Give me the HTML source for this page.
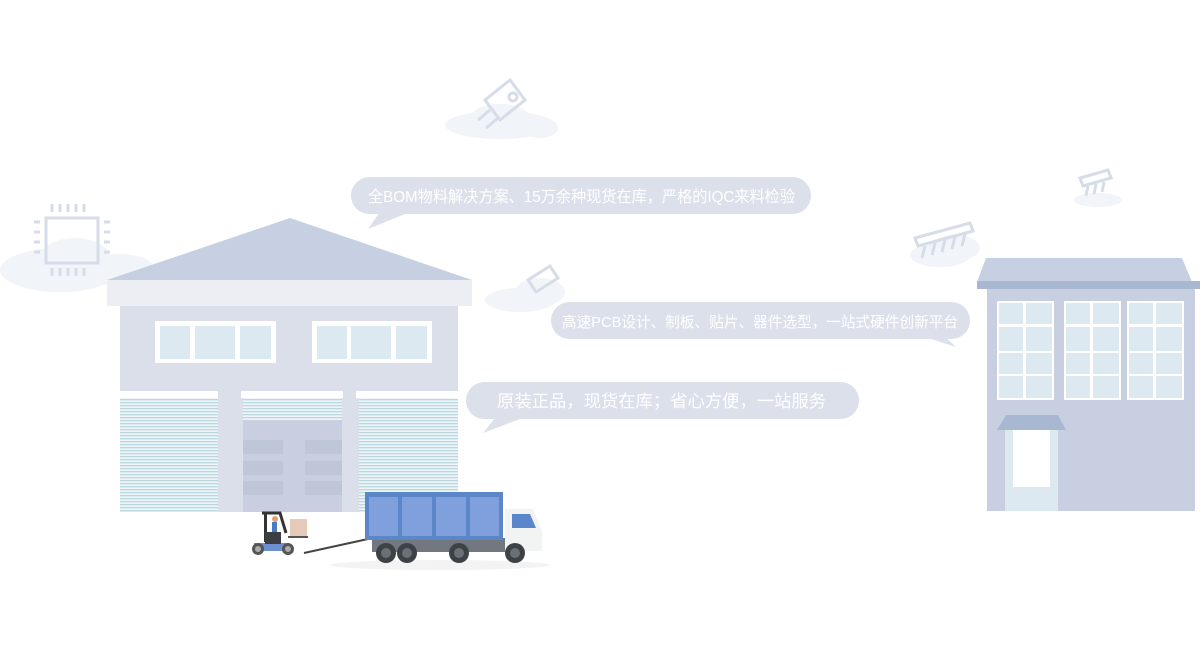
<!DOCTYPE html>
<html><head><meta charset="utf-8"><style>
html,body{margin:0;padding:0;background:#fff;}
body{width:1200px;height:650px;overflow:hidden;}
svg text{font-family:"Liberation Sans","Noto Sans CJK SC",sans-serif;fill:#fff;}
</style></head><body>
<svg width="1200" height="650" viewBox="0 0 1200 650" xmlns="http://www.w3.org/2000/svg">
<defs>
<pattern id="stripe" width="4" height="3" patternUnits="userSpaceOnUse">
<rect width="4" height="3" fill="#eef4f7"/><rect width="4" height="1.3" fill="#b9d8e0"/>
</pattern>
</defs>
<g fill="#f1f4f8">
<ellipse cx="60" cy="270" rx="60" ry="22"/><ellipse cx="75" cy="258" rx="35" ry="20"/><ellipse cx="120" cy="270" rx="35" ry="16"/>
<ellipse cx="500" cy="125" rx="55" ry="14"/><ellipse cx="500" cy="118" rx="30" ry="14"/><ellipse cx="540" cy="128" rx="18" ry="10"/>
<ellipse cx="520" cy="300" rx="35" ry="12"/><ellipse cx="540" cy="292" rx="25" ry="14"/>
<ellipse cx="940" cy="255" rx="30" ry="12"/><ellipse cx="955" cy="248" rx="25" ry="13"/>
<ellipse cx="1098" cy="200" rx="24" ry="7"/>
</g>
<g fill="none" stroke="#d6dde8" stroke-width="3">
<rect x="46" y="218" width="52" height="45"/>
<path d="M52 212v-8M60 212v-8M68 212v-8M76 212v-8M84 212v-8M52 268v8M60 268v8M68 268v8M76 268v8M84 268v8M40 222h-6M40 232h-6M40 242h-6M40 252h-6M104 222h6M104 232h6M104 242h6M104 252h6"/>
<path d="M485 100l25-20 15 20-25 20z"/><circle cx="513" cy="97" r="4"/><path d="M490 110l-12 10M498 118l-12 10"/>
<path d="M528 280l22-14 8 12-22 14z"/>
<path d="M915 238l55-15 3 8-55 15zM925 246l-3 12M935 243l-3 12M945 240l-3 12M955 237l-3 12M965 234l-3 12"/>
<path d="M1080 178l28-8 3 8-28 8zM1088 186l-2 10M1096 184l-2 10M1104 182l-2 10"/>
</g>
<polygon points="290,218 472,280 107,280" fill="#c7cfe2"/>
<rect x="107" y="280" width="365" height="26" fill="#eceef4"/>
<rect x="120" y="306" width="338" height="206" fill="#dadfe9"/>
<rect x="155" y="321" width="121" height="42" fill="#fff"/>
<rect x="160" y="326" width="30" height="33" fill="#dde9f1"/><rect x="195" y="326" width="40" height="33" fill="#dde9f1"/><rect x="240" y="326" width="31" height="33" fill="#dde9f1"/>
<rect x="312" y="321" width="120" height="42" fill="#fff"/>
<rect x="317" y="326" width="30" height="33" fill="#dde9f1"/><rect x="351" y="326" width="40" height="33" fill="#dde9f1"/><rect x="396" y="326" width="31" height="33" fill="#dde9f1"/>
<rect x="120" y="391" width="98" height="7" fill="#fff"/><rect x="241" y="391" width="102" height="7" fill="#fff"/><rect x="356" y="391" width="102" height="7" fill="#fff"/>
<rect x="120" y="398" width="98" height="114" fill="url(#stripe)"/>
<rect x="359" y="398" width="99" height="114" fill="url(#stripe)"/>
<rect x="243" y="398" width="99" height="22" fill="url(#stripe)"/>
<rect x="243" y="420" width="99" height="92" fill="#c9cfe0"/>
<g fill="#bec6d8"><rect x="243" y="440" width="40" height="14"/><rect x="243" y="461" width="40" height="14"/><rect x="243" y="481" width="40" height="14"/><rect x="305" y="440" width="37" height="14"/><rect x="305" y="461" width="37" height="14"/><rect x="305" y="481" width="37" height="14"/></g>
<line x1="304" y1="553" x2="368" y2="539" stroke="#444" stroke-width="2"/>
<rect x="264" y="512" width="3" height="30" fill="#333"/><path d="M262 513h18l6 20" stroke="#333" stroke-width="3" fill="none"/>
<rect x="290" y="519" width="17" height="18" fill="#e6cbb8"/><rect x="288" y="536" width="20" height="2" fill="#555"/>
<rect x="272" y="522" width="5" height="12" fill="#4a7cc4"/><circle cx="275" cy="519" r="3" fill="#e0a070"/>
<path d="M254 543h35v8h-35z" fill="#6e8fd0"/><rect x="265" y="532" width="16" height="12" fill="#3b3f44"/>
<circle cx="258" cy="549" r="6" fill="#555"/><circle cx="258" cy="549" r="3" fill="#aaa"/><circle cx="288" cy="549" r="6" fill="#555"/><circle cx="288" cy="549" r="3" fill="#aaa"/>
<ellipse cx="440" cy="565" rx="110" ry="5" fill="#f3f3f3"/>
<rect x="372" y="538" width="140" height="14" fill="#737880"/>
<path d="M505 509h28l9 22v20h-37z" fill="#f2f3f3"/>
<path d="M512 514h18l6 14h-24z" fill="#5a87cb"/>
<rect x="365" y="492" width="138" height="48" fill="#5b87c8"/>
<g fill="#7fa0dc"><rect x="369" y="497" width="29" height="39"/><rect x="402" y="497" width="30" height="39"/><rect x="436" y="497" width="30" height="39"/><rect x="470" y="497" width="29" height="39"/></g>
<g fill="#3d4247"><circle cx="386" cy="553" r="10"/><circle cx="407" cy="553" r="10"/><circle cx="459" cy="553" r="10"/><circle cx="515" cy="553" r="10"/></g>
<g fill="#6b7076"><circle cx="386" cy="553" r="5"/><circle cx="407" cy="553" r="5"/><circle cx="459" cy="553" r="5"/><circle cx="515" cy="553" r="5"/></g>
<polygon points="986,258 1182,258 1192,282 977,282" fill="#c7cfe2"/>
<rect x="977" y="281" width="223" height="8" fill="#a9b8d1"/>
<rect x="987" y="289" width="208" height="222" fill="#c7cfe1"/>
<g fill="#fff"><rect x="997" y="301" width="57" height="99"/><rect x="1064" y="301" width="57" height="99"/><rect x="1127" y="301" width="57" height="99"/></g>
<g fill="#dde9f1">
<rect x="999" y="303" width="24" height="21"/><rect x="1026" y="303" width="26" height="21"/><rect x="999" y="327" width="24" height="24"/><rect x="1026" y="327" width="26" height="24"/><rect x="999" y="353" width="24" height="21"/><rect x="1026" y="353" width="26" height="21"/><rect x="999" y="376" width="24" height="22"/><rect x="1026" y="376" width="26" height="22"/>
<rect x="1066" y="303" width="24" height="21"/><rect x="1093" y="303" width="26" height="21"/><rect x="1066" y="327" width="24" height="24"/><rect x="1093" y="327" width="26" height="24"/><rect x="1066" y="353" width="24" height="21"/><rect x="1093" y="353" width="26" height="21"/><rect x="1066" y="376" width="24" height="22"/><rect x="1093" y="376" width="26" height="22"/>
<rect x="1129" y="303" width="24" height="21"/><rect x="1156" y="303" width="26" height="21"/><rect x="1129" y="327" width="24" height="24"/><rect x="1156" y="327" width="26" height="24"/><rect x="1129" y="353" width="24" height="21"/><rect x="1156" y="353" width="26" height="21"/><rect x="1129" y="376" width="24" height="22"/><rect x="1156" y="376" width="26" height="22"/>
<rect x="1005" y="430" width="53" height="81"/>
</g>
<polygon points="1006,415 1058,415 1066,430 997,430" fill="#a9b8d1"/>
<rect x="1013" y="430" width="37" height="57" fill="#fff"/>
<g fill="#dbe0ea">
<rect x="351" y="177" width="460" height="37" rx="18.5"/><polygon points="380,212 410,212 368,229"/>
<rect x="551" y="302" width="419" height="37" rx="18.5"/><polygon points="925,337 945,337 956,347"/>
<rect x="466" y="382" width="393" height="37" rx="18.5"/><polygon points="496,417 525,417 483,433"/>
</g>
<text x="368" y="202" font-size="16" textLength="427" lengthAdjust="spacingAndGlyphs">全BOM物料解决方案、15万余种现货在库，严格的IQC来料检验</text>
<text x="562" y="327" font-size="15" textLength="396" lengthAdjust="spacingAndGlyphs">高速PCB设计、制板、贴片、器件选型，一站式硬件创新平台</text>
<text x="497" y="407" font-size="17" textLength="329" lengthAdjust="spacingAndGlyphs">原装正品，现货在库；省心方便，一站服务</text>
</svg>
</body></html>
